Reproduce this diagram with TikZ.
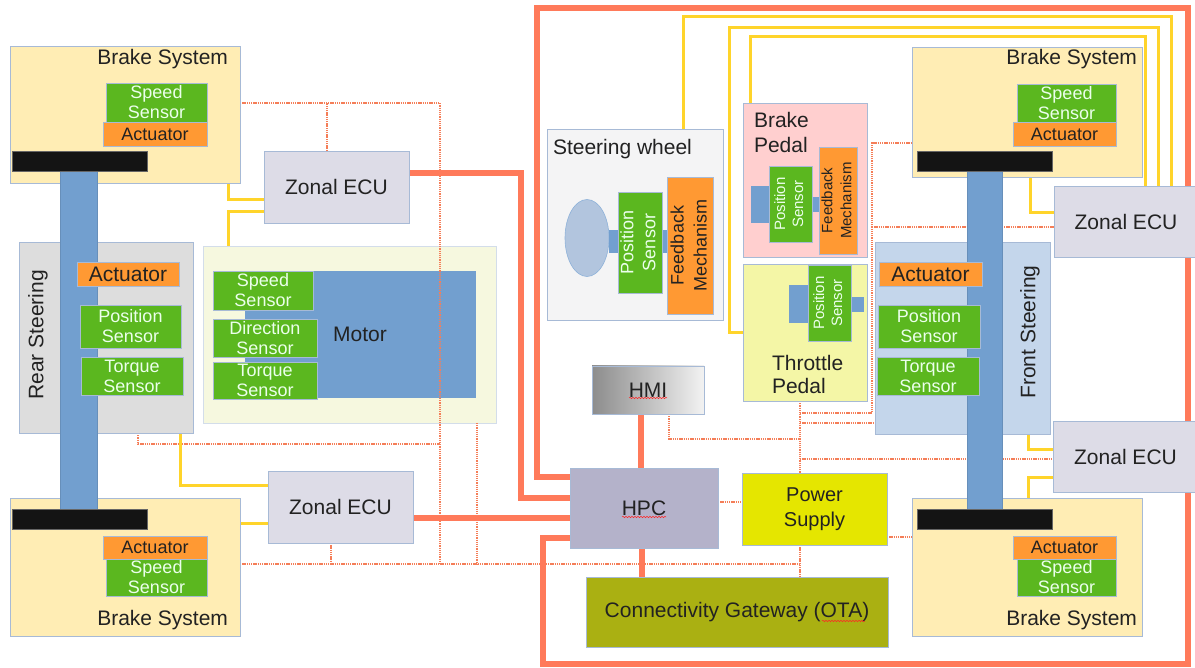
\documentclass[tikz,border=0pt]{standalone}
\usepackage{fontspec}
\setmainfont{Liberation Sans}
\usetikzlibrary{calc,shapes.geometric,decorations.pathmorphing}
\definecolor{bsfill}{HTML}{FFEDB4}
\definecolor{bord}{HTML}{A7BAD6}
\definecolor{grn}{HTML}{5BB71F}
\definecolor{org}{HTML}{FF9933}
\definecolor{shaftc}{HTML}{729FCF}
\definecolor{steerc}{HTML}{DDDDDD}
\definecolor{ecuc}{HTML}{DDDCE7}
\definecolor{hpcc}{HTML}{B4B2CA}
\definecolor{motbg}{HTML}{F6F8DF}
\definecolor{redc}{HTML}{FF7A5A}
\definecolor{yelc}{HTML}{FFD42A}
\definecolor{dotc}{HTML}{F57E58}
\definecolor{fsteer}{HTML}{C4D6EB}
\definecolor{bped}{HTML}{FFCFCF}
\definecolor{tped}{HTML}{F4F6A6}
\definecolor{psupc}{HTML}{E5E600}
\definecolor{cgwc}{HTML}{AAB012}
\definecolor{swbg}{HTML}{F4F4F5}
\definecolor{ellc}{HTML}{B2C5DE}
\definecolor{txtc}{HTML}{222222}
\newcommand\myfs[2]{\fontsize{#1}{#2}\selectfont}
\newcommand\rot[1]{\rotatebox{90}{\begin{tabular}{@{}c@{}}#1\end{tabular}}}
\newcommand\bx[7]{%
  \pgfmathsetmacro\bxw{#4-#2}%
  \pgfmathsetmacro\bxh{#5-#3}%
  \pgfmathsetmacro\bxx{(#2+#4)/2}%
  \pgfmathsetmacro\bxy{(#3+#5)/2}%
  \node[#6, minimum width=\bxw pt, minimum height=\bxh pt] (#1) at (\bxx,\bxy) {#7};}
\pgfdeclarelayer{back}
\pgfdeclarelayer{lines}
\pgfsetlayers{back,lines,main}
\tikzset{
  box/.style={draw=bord, line width=0.8pt, inner sep=0pt, outer sep=0pt, align=center, text=txtc, font=\myfs{21}{25}},
  brk/.style={box, fill=bsfill},
  sen/.style={box, fill=grn, text=white!92!green, font=\myfs{18}{20}},
  act/.style={box, fill=org, font=\myfs{18}{20}},
  blk/.style={box, fill=black!92, draw=black!60},
  shf/.style={box, fill=shaftc, draw=shaftc!90!black},
  ecub/.style={box, fill=ecuc},
  lbl/.style={inner sep=0pt, outer sep=0pt, text=txtc, font=\myfs{21}{25}},
  redl/.style={draw=redc, line width=5.5pt},
  yell/.style={draw=yelc, line width=3pt},
  dotl/.style={draw=dotc, line width=1.6pt, dash pattern=on 1.3pt off 0.9pt},
  squig/.style={draw=red!85, line width=0.5pt, decorate, decoration={snake, amplitude=0.7pt, segment length=3pt}}
}
\begin{document}
\begin{tikzpicture}[x=1pt,y=-1pt]
\useasboundingbox (0,0) rectangle (1195,668);
\begin{pgfonlayer}{back}
\fill[white] (0,0) rectangle (1195,668);
\bx{motorO}{203}{246}{496}{423}{box,fill=motbg,draw=bord!50}{}
\bx{motorI}{245}{271}{475}{397}{box,fill=shaftc,draw=shaftc}{Motor}
\bx{msS}{213}{271}{313}{310}{sen}{Speed\\Sensor}
\bx{msD}{213}{319}{317}{357}{sen}{Direction\\Sensor}
\bx{msT}{213}{362}{317}{399}{sen}{Torque\\Sensor}
\end{pgfonlayer}
% ---------- left side
\bx{bsTL}{10}{46}{240}{183}{brk}{}
\node[lbl,anchor=base east] (bsTLt) at (228,65) {Brake System};
\bx{ssTL}{106}{83}{207}{122}{sen}{Speed\\Sensor}
\bx{acTL}{103}{122}{207}{146}{act}{Actuator}
\bx{bsBL}{10}{498}{240}{636}{brk}{}
\node[lbl,anchor=base east] (bsBLt) at (228,625) {Brake System};
\bx{acBL}{103}{536}{207}{559}{act}{Actuator}
\bx{ssBL}{106}{559}{207}{596}{sen}{Speed\\Sensor}
\bx{rsBox}{19}{242}{193}{433}{box,fill=steerc}{}
\node[lbl,rotate=90] (rsT) at (38,335) {Rear Steering};
\bx{shL}{60}{171}{97}{509}{shf}{}
\bx{barTL}{12}{151}{147}{171}{blk}{}
\bx{barBL}{12}{509}{147}{529}{blk}{}
\bx{acRS}{77}{262}{179}{286}{act,font=\myfs{21}{24}}{Actuator}
\bx{psRS}{80}{305}{181}{348}{sen}{Position\\Sensor}
\bx{tsRS}{81}{357}{183}{395}{sen}{Torque\\Sensor}
\bx{zecuTL}{264}{151}{409}{223}{ecub}{Zonal ECU}
\bx{zecuBL}{268}{471}{413}{543}{ecub}{Zonal ECU}
% ---------- centre
\bx{sw}{547}{129}{723}{320}{box,fill=swbg}{}
\node[lbl,anchor=base west] (swT) at (553,155) {Steering wheel};
\node[ellipse,fill=ellc,draw=shaftc!80,line width=0.6pt,minimum width=44pt,minimum height=77pt,inner sep=0pt] (swE) at (587,238) {};
\bx{swC1}{609}{230}{619}{253}{shf,draw=none}{}
\bx{swC2}{661}{230}{670}{253}{shf,draw=none}{}
\bx{swPS}{618}{192}{662}{293}{sen,font=\myfs{18}{22}}{\rot{Position\\Sensor}}
\bx{swFB}{669}{177}{712}{314}{act,font=\myfs{18}{23}}{\rot{Feedback\\Mechanism}}
\bx{bp}{743}{103}{867}{257}{box,fill=bped}{}
\node[lbl,anchor=west,align=left,font=\myfs{21}{25}] (bpT) at (754,132) {Brake\\Pedal};
\bx{bpC1}{751}{186}{769}{223}{shf,draw=none}{}
\bx{bpC2}{812}{197}{821}{212}{shf,draw=none}{}
\bx{bpPS}{769}{166}{812}{242}{sen,font=\myfs{15}{18}}{\rot{Position\\Sensor}}
\bx{bpFB}{821}{147}{855}{254}{act,font=\myfs{15}{19}}{\rot{Feedback\\Mechanism}}
\bx{tp}{743}{264}{867}{401}{box,fill=tped}{}
\node[lbl,anchor=west,align=left,font=\myfs{21}{23}] (tpT) at (772,374) {Throttle\\Pedal};
\bx{tpC1}{789}{285}{808}{323}{shf,draw=none}{}
\bx{tpC2}{851}{297}{864}{312}{shf,draw=none}{}
\bx{tpPS}{808}{265}{851}{341}{sen,font=\myfs{15}{18}}{\rot{Position\\Sensor}}
\bx{hmi}{592}{366}{704}{414}{box,left color=black!45,right color=black!5}{HMI}
\bx{hpc}{570}{468}{718}{548}{box,fill=hpcc}{HPC}
\bx{psup}{742}{473}{887}{545}{box,fill=psupc,font=\myfs{20}{25}}{Power\\Supply}
\bx{cgw}{586}{577}{888}{647}{box,fill=cgwc}{Connectivity Gateway (OTA)}
% ---------- right side
\bx{bsTR}{912}{47}{1142}{177}{brk}{}
\node[lbl,anchor=base east] (bsTRt) at (1137,65) {Brake System};
\bx{ssTR}{1017}{84}{1116}{122}{sen}{Speed\\Sensor}
\bx{acTR}{1013}{122}{1116}{146}{act}{Actuator}
\bx{bsBR}{912}{498}{1142}{636}{brk}{}
\node[lbl,anchor=base east] (bsBRt) at (1137,625) {Brake System};
\bx{acBR}{1013}{536}{1116}{559}{act}{Actuator}
\bx{ssBR}{1017}{559}{1116}{596}{sen}{Speed\\Sensor}
\bx{fsBox}{875}{242}{1050}{434}{box,fill=fsteer}{}
\node[lbl,rotate=90] (fsT) at (1030,332) {Front Steering};
\bx{shR}{967}{171}{1002}{509}{shf}{}
\bx{barTR}{917}{151}{1052}{171}{blk}{}
\bx{barBR}{917}{509}{1052}{529}{blk}{}
\bx{acFS}{879}{262}{982}{286}{act,font=\myfs{21}{24}}{Actuator}
\bx{psFS}{878}{305}{980}{348}{sen}{Position\\Sensor}
\bx{tsFS}{877}{357}{979}{395}{sen}{Torque\\Sensor}
\bx{zecuTR}{1054}{186}{1198}{257}{ecub}{Zonal ECU}
\bx{zecuBR}{1053}{421}{1198}{492}{ecub}{Zonal ECU}
% spell-check squiggles
\draw[squig] (629,398) -- (667,398);
\draw[squig] (622,517) -- (666,517);
\draw[squig] (822,621) -- (865,621);
% ---------- connectors
\begin{pgfonlayer}{lines}
\coordinate (dA) at (440,103);
\coordinate (dB) at (440,564);
\coordinate (dC) at (800,564);
\coordinate (dT) at (800,413);
% dotted
\draw[dotl] (bsTL.east |- dA) -- (dA) -- (dB);
\draw[dotl] (zecuTL.north -| 327,0) -- (327,103);
\draw[dotl] (rsBox.south -| 138,0) |- (440,444);
\draw[dotl] (motorO.south -| 477,0) -- (477,564);
\draw[dotl] (zecuBL.south -| 331,0) -- (331,564);
\draw[dotl] (bsBL.east |- dB) -- (dC);
\draw[dotl] (psup.south -| dC) -- (cgw.north -| dC);
\draw[dotl] (tp.south -| dT) -- (psup.north -| dT);
\draw[dotl] (hmi.south -| 669,0) |- (800,439);
\draw[dotl] (dT) -| (872,143) -- (bsTR.west |- 0,143);
\draw[dotl] (872,227) -- (zecuTR.west |- 0,227);
\draw[dotl] (800,423) -- (fsBox.west |- 0,423);
\draw[dotl] (800,459) -- (zecuBR.west |- 0,459);
\draw[dotl] (hpc.east |- 0,502) -- (psup.west |- 0,502);
\draw[dotl] (psup.east |- 0,537) -- (bsBR.west |- 0,537);
% yellow
\draw[yell] (bsTL.south -| 228,0) |- (zecuTL.west |- 0,200);
\draw[yell] (zecuTL.west |- 0,212) -| (motorO.north -| 228,0);
\draw[yell] (rsBox.south -| 180,0) |- (zecuBL.west |- 0,485);
\draw[yell] (bsBL.east |- 0,523) -- (zecuBL.west |- 0,523);
\draw[yell] (sw.north -| 683,0) |- (1171,17) -- (zecuTR.north -| 1171,0);
\draw[yell] (tp.west |- 0,333) -| (729,28) -| (zecuTR.north -| 1158,0);
\draw[yell] (bp.north -| 750,0) |- (1145,37) -- (zecuTR.north -| 1145,0);
\draw[yell] (bsTR.south -| 1030,0) |- (zecuTR.west |- 0,213);
\draw[yell] (fsBox.south -| 1028,0) |- (zecuBR.west |- 0,449);
\draw[yell] (zecuBR.west |- 0,477) -| (bsBR.north -| 1028,0);
% red
\draw[redl] (zecuTL.east |- 0,173) -| (521,498) -- (hpc.west |- 0,498);
\draw[redl] (hpc.west |- 0,477) -| (537,8) -| (zecuTR.north -| 1188,0);
\draw[redl] (zecuTR.south -| 1188,0) -- (zecuBR.north -| 1188,0);
\draw[redl] (zecuBR.south -| 1188,0) |- (543,664) |- (hpc.west |- 0,538);
\draw[redl] (zecuBL.east |- 0,518) -- (hpc.west |- 0,518);
\draw[redl] (hmi.south -| 641,0) -- (hpc.north -| 641,0);
\draw[redl] (hpc.south -| 642,0) -- (cgw.north -| 642,0);
\end{pgfonlayer}
\end{tikzpicture}
\end{document}
